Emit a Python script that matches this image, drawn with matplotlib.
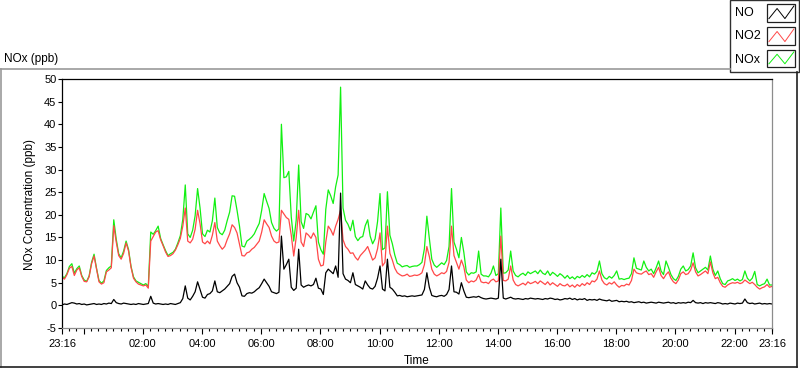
import numpy as np
import matplotlib.pyplot as plt
from matplotlib.lines import Line2D
from matplotlib.patches import Rectangle

plt.rcParams['font.family'] = ['Liberation Sans', 'DejaVu Sans']
plt.rcParams['axes.unicode_minus'] = False

# readings every 5 minutes, starting 23:16 (one row = one hour)
no = [
    0.1, 0.3, 0.2, 0.4, 0.6, 0.5, 0.3, 0.4, 0.2, 0.3, 0.1, 0.2,
    0.3, 0.4, 0.2, 0.3, 0.2, 0.4, 0.3, 0.5, 0.4, 1.3, 0.6, 0.4,
    0.3, 0.5, 0.4, 0.3, 0.2, 0.3, 0.2, 0.4, 0.3, 0.2, 0.3, 0.4,
    2.0, 0.5, 0.3, 0.4, 0.3, 0.2, 0.3, 0.2, 0.4, 0.3, 0.2, 0.4,
    0.6, 1.5, 4.3, 1.6, 1.2, 2.0, 3.0, 5.2, 3.5, 1.8, 1.6, 2.4,
    2.6, 3.2, 5.4, 3.0, 2.8, 3.2, 3.6, 4.2, 4.8, 6.4, 6.9, 5.0,
    4.0, 2.1, 2.0, 2.6, 2.8, 2.7, 3.0, 3.5, 3.9, 4.8, 5.8, 5.0,
    4.2, 3.0, 2.8, 2.6, 2.9, 15.3, 8.0, 9.0, 10.2, 4.0, 3.3, 3.8,
    12.4, 4.5, 4.0, 4.3, 4.5, 4.3, 4.6, 6.0, 3.8, 3.6, 2.4, 7.2,
    8.0, 7.5, 7.0, 8.7, 6.2, 24.8, 7.0, 5.8, 5.5, 5.0, 7.2, 4.6,
    4.3, 4.0, 3.6, 5.4, 4.5, 3.8, 3.6, 4.2, 6.0, 8.7, 3.6, 3.2,
    10.2, 4.0, 3.6, 2.9, 2.1, 2.2, 2.0, 2.1, 1.9, 2.0, 2.1, 2.0,
    2.1, 2.2, 2.3, 3.5, 7.2, 4.0, 2.2, 2.0, 1.9, 2.1, 2.2, 2.0,
    2.4, 3.5, 8.7, 3.0, 2.9, 2.5, 5.0, 3.2, 1.8, 1.7, 1.8, 1.9,
    1.8, 2.0, 1.7, 1.5, 1.4, 1.5, 1.6, 1.5, 1.4, 1.6, 10.2, 1.6,
    1.4, 1.6, 1.8, 1.5, 1.4, 1.5, 1.4, 1.3, 1.5, 1.4, 1.6, 1.5,
    1.4, 1.5, 1.4, 1.3, 1.5, 1.4, 1.6, 1.5, 1.3, 1.4, 1.2, 1.3,
    1.5, 1.4, 1.6, 1.3, 1.5, 1.2, 1.4, 1.3, 1.5, 1.1, 1.3, 1.2,
    1.3, 1.1, 1.4, 1.2, 1.1, 1.0, 1.2, 0.9, 1.0, 1.1, 0.8, 0.9,
    0.8, 0.9, 0.7, 0.8, 0.6, 0.7, 0.8, 0.6, 0.7, 0.5, 0.6, 0.7,
    0.6, 0.5, 0.7, 0.6, 0.5, 0.6, 0.7, 0.5, 0.6, 0.4, 0.6, 0.5,
    0.6, 0.5, 0.7, 0.6, 1.1, 0.6, 0.5, 0.6, 0.4, 0.6, 0.5, 0.6,
    0.5, 0.4, 0.6, 0.5, 0.3, 0.4, 0.3, 0.5, 0.4, 0.3, 0.5, 0.4,
    0.5, 1.4, 0.6, 0.4, 0.5, 0.3, 0.4, 0.5, 0.3, 0.4, 0.3, 0.4, 0.3,
]

no2 = [
    6.2, 5.8, 6.8, 8.2, 8.6, 6.6, 7.8, 8.3, 6.4, 5.3, 5.2, 6.3,
    9.2, 10.9, 8.0, 5.2, 4.7, 5.0, 7.4, 7.8, 8.3, 17.6, 14.0, 11.0,
    10.2, 11.5, 13.8, 12.0, 8.4, 6.0, 5.2, 4.7, 4.5, 4.3, 4.5, 3.8,
    14.2, 15.2, 16.2, 16.5, 14.5, 13.2, 11.8, 10.8, 11.0, 11.4, 12.2, 13.4,
    14.8, 17.5, 21.5, 14.2, 13.8, 14.6, 16.8, 21.0, 18.0, 14.0, 13.6, 14.2,
    13.6, 15.5, 18.3, 14.2, 13.2, 12.4, 13.0, 14.5, 15.8, 17.8, 17.2, 16.0,
    13.5, 11.0, 10.9, 11.6, 11.8, 12.4, 12.8, 13.5, 14.2, 16.2, 18.9, 18.0,
    17.2, 15.3, 14.2, 13.8, 14.0, 21.0, 20.2, 19.4, 19.0, 15.5, 10.9, 15.0,
    21.0, 14.0, 13.0, 16.0, 15.5, 14.8, 16.0, 15.0, 10.2, 8.7, 8.9, 14.0,
    17.5, 16.7, 15.5, 17.5, 19.0, 21.0, 14.5, 13.0, 12.4, 11.5, 11.6, 10.6,
    10.0, 11.0, 11.6, 12.2, 13.0, 11.5, 10.0, 10.5, 12.5, 16.0, 8.7, 9.5,
    17.5, 11.5, 10.0, 8.2, 7.2, 6.8, 6.5, 6.6, 6.9, 6.4, 6.5, 6.7,
    6.6, 6.8, 7.2, 9.0, 13.0, 10.8, 8.0, 6.9, 6.5, 6.8, 7.2, 7.0,
    7.5, 9.5, 17.5, 11.0, 9.5, 8.0, 10.0, 8.5, 5.6, 5.0, 5.4, 5.2,
    5.6, 6.8, 5.2, 5.0, 5.1, 4.8, 5.5, 5.8, 5.2, 5.4, 15.3, 5.5,
    5.4, 5.8, 8.7, 5.6, 4.6, 4.3, 4.6, 4.9, 4.5, 5.2, 4.8, 5.0,
    5.3, 4.8, 5.4, 5.0, 4.6, 5.2, 4.5, 5.0, 4.6, 4.2, 4.8, 4.4,
    4.3, 4.7, 4.1, 4.5, 4.0, 4.6, 4.2, 4.8, 4.4, 5.0, 4.6, 5.4,
    5.2, 5.8, 7.6, 5.6, 4.8, 4.5, 5.0, 4.7, 5.2, 4.5, 4.0, 4.4,
    4.3, 4.7, 4.5, 5.5, 8.0, 7.2, 7.0, 6.9, 7.3, 7.6, 6.8, 7.0,
    6.2, 7.4, 8.4, 6.6, 5.9, 6.8, 7.4, 6.0, 5.2, 4.8, 5.6, 7.0,
    7.4, 6.8, 7.0, 7.8, 9.4, 7.4, 6.5, 6.8, 7.2, 7.6, 7.0, 9.6,
    7.2, 5.9, 6.2, 5.0, 4.2, 4.0, 4.5, 4.8, 5.0, 4.9, 5.1, 4.8,
    5.0, 5.6, 5.2, 4.8, 5.1, 4.6, 4.0, 3.6, 3.9, 4.1, 4.6, 4.0, 4.2,
]

nox = [
    6.4, 6.1, 7.0, 8.6, 9.2, 7.1, 8.1, 8.7, 6.6, 5.6, 5.3, 6.5,
    9.5, 11.3, 8.2, 5.5, 4.9, 5.4, 7.7, 8.3, 8.7, 18.9, 14.6, 11.4,
    10.5, 12.0, 14.2, 12.3, 8.6, 6.3, 5.4, 5.1, 4.8, 4.5, 4.8, 4.2,
    16.2, 15.7, 16.5, 17.5, 14.8, 13.4, 12.1, 11.0, 11.4, 11.7, 12.4, 13.8,
    15.4, 19.0, 26.6, 15.8, 15.0, 16.6, 19.8, 25.8, 21.5, 15.8, 15.2, 16.6,
    16.2, 18.7, 23.7, 17.2, 16.0, 15.6, 16.6, 18.7, 20.6, 24.2, 24.1, 21.0,
    17.5, 13.1, 12.9, 14.2, 14.6, 15.1, 15.8, 17.0, 18.1, 21.0, 24.7, 23.0,
    21.4, 18.3, 17.0, 16.4, 16.9, 40.0, 28.2, 28.4, 29.6, 19.5, 14.2, 18.8,
    31.0, 18.5, 17.0, 20.3, 20.0, 19.1, 20.6, 22.0, 14.0, 12.3, 11.3, 21.2,
    25.5, 24.2, 22.5, 26.2, 28.8, 48.2, 21.5, 18.8, 17.9, 16.5, 18.8, 15.2,
    14.3, 15.0, 15.2, 17.6, 18.9, 15.3, 13.6, 14.7, 18.5, 24.7, 12.3, 12.7,
    25.1, 15.5, 13.6, 11.1, 9.3, 9.0, 8.5, 8.7, 8.8, 8.4, 8.6, 8.7,
    8.7, 9.0, 9.5, 12.5, 19.7, 14.8, 10.2, 8.9, 8.4, 8.9, 9.4, 9.0,
    9.9, 13.0, 25.8, 14.0, 12.4, 10.5, 15.0, 11.7, 7.4, 6.7, 7.2, 7.1,
    7.4, 12.0, 6.9, 6.5, 6.5, 6.3, 7.1, 8.7, 6.6, 7.0, 21.5, 7.1,
    7.2, 7.8, 12.0, 7.6, 6.6, 6.3, 6.8, 7.1, 6.6, 7.4, 7.0, 7.3,
    7.6, 7.0, 7.8, 7.1, 6.8, 7.6, 6.6, 7.3, 6.9, 6.4, 7.0, 6.6,
    6.0, 6.6, 5.9, 6.3, 5.8, 6.4, 6.1, 6.6, 6.2, 6.8, 6.3, 7.2,
    6.9, 7.5, 9.8, 7.0, 6.1, 5.8, 6.4, 6.0, 6.6, 7.6, 5.8, 5.9,
    5.7, 5.9, 6.0, 7.0, 10.5, 8.2, 8.0, 7.8, 9.8, 8.4, 7.6, 8.0,
    7.0, 8.3, 9.8, 7.6, 6.8, 9.8, 8.4, 6.8, 5.9, 5.5, 6.4, 8.0,
    8.7, 7.6, 7.9, 8.7, 11.6, 8.3, 7.2, 7.6, 8.0, 8.4, 7.8, 10.9,
    8.0, 6.6, 7.6, 5.9, 4.8, 4.6, 5.4, 5.6, 5.9, 5.5, 5.8, 5.4,
    5.7, 7.6, 6.0, 5.4, 6.0, 7.5, 4.6, 4.3, 4.6, 4.8, 5.8, 4.5, 4.5,
]

names = ["NO", "NO2", "NOx"]
colors = ["#000000", "#ff4848", "#12f012"]

# x axis: minutes after 23:16
tick_pos = [0, 44, 164, 284, 404, 524, 644, 764, 884, 1004, 1124, 1244, 1364, 1440]
tick_lab = ["23:16", "", "02:00", "04:00", "06:00", "08:00", "10:00", "12:00",
            "14:00", "16:00", "18:00", "20:00", "22:00", "23:16"]
minutes = np.arange(len(no)) * 5

W, H = 800, 369
fig = plt.figure(figsize=(W / 100, H / 100), dpi=100)


def fx(x):
    return x / W


def fy(y):
    return 1 - y / H


ax = fig.add_axes([fx(62), fy(328), fx(772) - fx(62), fy(79) - fy(328)])

ax.plot(minutes, nox, color=colors[2], lw=0.9)
ax.plot(minutes, no2, color=colors[1], lw=0.9)
ax.plot(minutes, no, color=colors[0], lw=0.9)

ax.set_xlim(0, 1440)
ax.set_ylim(-5, 50)
ax.set_yticks(np.arange(-5, 55, 5))
ax.set_xticks(tick_pos)
ax.set_xticklabels(tick_lab)
ax.set_xticks(np.arange(14, 1440, 15), minor=True)
ax.tick_params(axis='x', which='major', length=4, width=0.8, pad=4, labelsize=8)
ax.tick_params(axis='x', which='minor', length=2.2, width=0.8)
ax.tick_params(axis='y', length=3, width=0.8, pad=1, labelsize=8)

for side in ['left', 'top']:
    ax.spines[side].set_color('black')
for side in ['right', 'bottom']:
    ax.spines[side].set_color('#8c8c8c')
for s in ax.spines.values():
    s.set_linewidth(0.9)

fig.text(fx(4), fy(59), "NOx (ppb)", ha='left', va='center', fontsize=8.5)
fig.text(fx(30), fy(204), "NOx Concentration (ppb)", rotation=90,
         ha='center', va='center', fontsize=8.5)
fig.text(fx(417), fy(361), "Time", ha='center', va='center', fontsize=8.5)

# outer panel frame
frame = [((0, 69), (730, 69), '#9a9a9a'), ((1, 69), (1, 367), '#9a9a9a'),
         ((0, 367), (797, 367), '#202020'), ((797, 72), (797, 367), '#202020')]
for (x0, y0), (x1, y1), c in frame:
    fig.add_artist(Line2D([fx(x0), fx(x1)], [fy(y0), fy(y1)], color=c, lw=1.2))

# legend box
fig.add_artist(Rectangle((fx(730), fy(72)), fx(799) - fx(730), fy(0) - fy(72),
                         facecolor='white', edgecolor='#303030', lw=1.0))
rows = [(13, 4, 22, 0), (36, 27, 45, 1), (60, 50, 67, 2)]
zx = [0.07, 0.36, 0.64, 0.96]
zy = [0.19, 0.75, 0.19, 0.89]
for ty, b0, b1, k in rows:
    fig.text(fx(735), fy(ty), names[k], ha='left', va='center', fontsize=9)
    fig.add_artist(Rectangle((fx(767), fy(b1)), fx(795) - fx(767), fy(b0) - fy(b1),
                             facecolor='white', edgecolor='#202020', lw=0.9))
    xs = [fx(767 + z * 28) for z in zx]
    ys = [fy(b1 - z * (b1 - b0)) for z in zy]
    fig.add_artist(Line2D(xs, ys, color=colors[k], lw=0.7))

fig.savefig("out.png", dpi=100)
